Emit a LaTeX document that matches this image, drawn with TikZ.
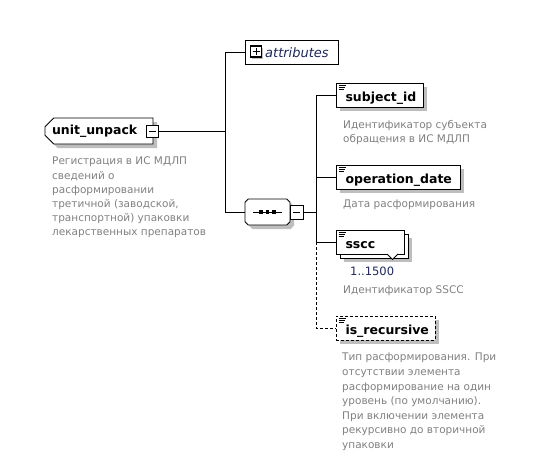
\documentclass[tikz,border=0pt]{standalone}
\usepackage{fontspec}
\setmainfont{DejaVu Sans}
\usetikzlibrary{shapes.misc,shadows}
\definecolor{descgray}{RGB}{128,128,128}
\definecolor{navy}{RGB}{30,40,90}
\definecolor{shd}{RGB}{190,190,190}
\newcommand{\lowr}[1]{\raisebox{-3pt}[\height][\depth]{#1}}
\begin{document}
\begin{tikzpicture}[x=1pt,y=-1pt,
  conn/.style={line width=0.9pt},
  box/.style={draw, line width=0.9pt, fill=white, inner ysep=0pt},
  shad/.style={drop shadow={shadow xshift=4pt,shadow yshift=-4pt,fill=shd,opacity=1}},
  lbl/.style={font=\bfseries\fontsize{12.5}{14}\selectfont, text=black},
  desc/.style={font=\fontsize{10.5}{14.2}\selectfont, text=descgray, align=left, inner sep=0pt, anchor=north west},
  tog/.style={draw, line width=0.9pt, fill=white, minimum size=12pt, inner sep=0pt},
  elem/.style={box, lbl, inner xsep=9.5pt, align=left, minimum height=24pt},
]
\useasboundingbox (0,0) rectangle (553,466);

% root element
\node[box, shad, lbl, chamfered rectangle, chamfered rectangle corners={north west,south west},
      chamfered rectangle xsep=5pt, minimum width=108pt, minimum height=26pt,
      inner xsep=0pt, text width=94pt, align=left] (uu) at (99,131) {unit\_unpack};
\node[tog] (uutog) at (152.5,131) {};
\draw[line width=0.9pt] ([xshift=-3.5pt]uutog.center) -- ([xshift=3.5pt]uutog.center);
\node[desc] (uudesc) at (52,157) {Регистрация в ИС МДЛП\\сведений о\\расформировании\\третичной (заводской,\\транспортной) упаковки\\лекарственных препаратов};

% attributes
\node[box, minimum width=93pt, minimum height=24pt] (attr) at (291.5,52) {};
\node[draw, line width=1.2pt, fill=white, minimum size=11pt, inner sep=0pt,
      drop shadow={shadow xshift=1.5pt,shadow yshift=-1.5pt,fill=shd,opacity=1}] (attrtog) at (256,51.5) {};
\draw[line width=1pt] ([xshift=-3.5pt]attrtog.center) -- ([xshift=3.5pt]attrtog.center)
                      ([yshift=-3.5pt]attrtog.center) -- ([yshift=3.5pt]attrtog.center);
\node[anchor=west, inner sep=0pt, text=navy, font=\itshape\fontsize{13}{15}\selectfont] (attrlbl) at (265,52.5) {attributes};

% sequence
\node[box, shad, chamfered rectangle, chamfered rectangle xsep=7pt, minimum width=45pt, minimum height=26pt] (seq) at (267.5,212) {};
\draw[line width=0.9pt] (253,212) -- (282,212);
\foreach \xx in {261,267.5,274} \fill (\xx-1.8,210.2) rectangle (\xx+1.8,213.8);
\node[tog, minimum width=13pt, minimum height=14pt] (seqtog) at (296.5,212) {};
\draw[line width=0.9pt] ([xshift=-3.5pt]seqtog.center) -- ([xshift=3.5pt]seqtog.center);

% children
\node[elem, shad, text width=68pt] (subj) at (379.5,95) {\lowr{subject\_id}};
\node[elem, shad, text width=105pt] (opdate) at (398,177) {\lowr{operation\_date}};
\node[box, shad, minimum width=68pt, minimum height=24pt] (ssccback) at (374,246) {};
\node[elem, text width=49pt] (sscc) at (370,242) {\lowr{sscc}};
\filldraw[fill=white, line width=0.8pt] (387,254) -- (392.5,259.5) -- (398,254);
\node[elem, shad, text width=80pt, dash pattern=on 3pt off 2pt] (isrec) at (385.5,328) {\lowr{is\_recursive}};

% element icons
\foreach \nm in {subj,opdate,sscc,isrec}{
  \draw[line width=0.7pt] ([xshift=3pt,yshift=-2.5pt]\nm.north west) -- ++(7pt,0);
  \draw[line width=0.7pt] ([xshift=3pt,yshift=-4.5pt]\nm.north west) -- ++(6pt,0);
  \draw[line width=0.7pt] ([xshift=3pt,yshift=-6.5pt]\nm.north west) -- ++(5pt,0);
}

% descriptions
\node[desc] (subjdesc) at (343,120) {Идентификатор субъекта\\обращения в ИС МДЛП};
\node[desc] (opdesc) at (343,200) {Дата расформирования};
\node[anchor=north west, inner sep=0pt, text=navy, font=\fontsize{11.5}{13}\selectfont] (ssccmult) at (350,267) {1..1500};
\node[desc] (ssccdesc) at (343,286) {Идентификатор SSCC};
\node[desc, font=\fontsize{10.5}{14.6}\selectfont] (isrecdesc) at (342,353) {Тип расформирования. При\\отсутствии элемента\\расформирование на один\\уровень (по умолчанию).\\При включении элемента\\рекурсивно до вторичной\\упаковки};

% connectors
\coordinate (ja) at (225,52);
\coordinate (jb) at (225,131);
\coordinate (jc) at (225,212);
\draw[conn] (uutog.east) -- (jb);
\draw[conn] (ja) -- (jc);
\draw[conn] (ja) -- (attr.west);
\draw[conn] (jc) -- (seq.west);
\coordinate (ka) at (316,95);
\coordinate (kb) at (316,177);
\coordinate (kc) at (316,212);
\coordinate (kd) at (316,242);
\coordinate (ke) at (316,328);
\draw[conn] (seqtog.east) -- (kc);
\draw[conn] (ka) -- (kd);
\draw[conn] (ka) -- (subj.west);
\draw[conn] (kb) -- (opdate.west);
\draw[conn] (kd) -- (sscc.west);
\draw[conn, dash pattern=on 3pt off 2pt] (kd) -- (ke) -- (isrec.west);
\end{tikzpicture}
\end{document}
